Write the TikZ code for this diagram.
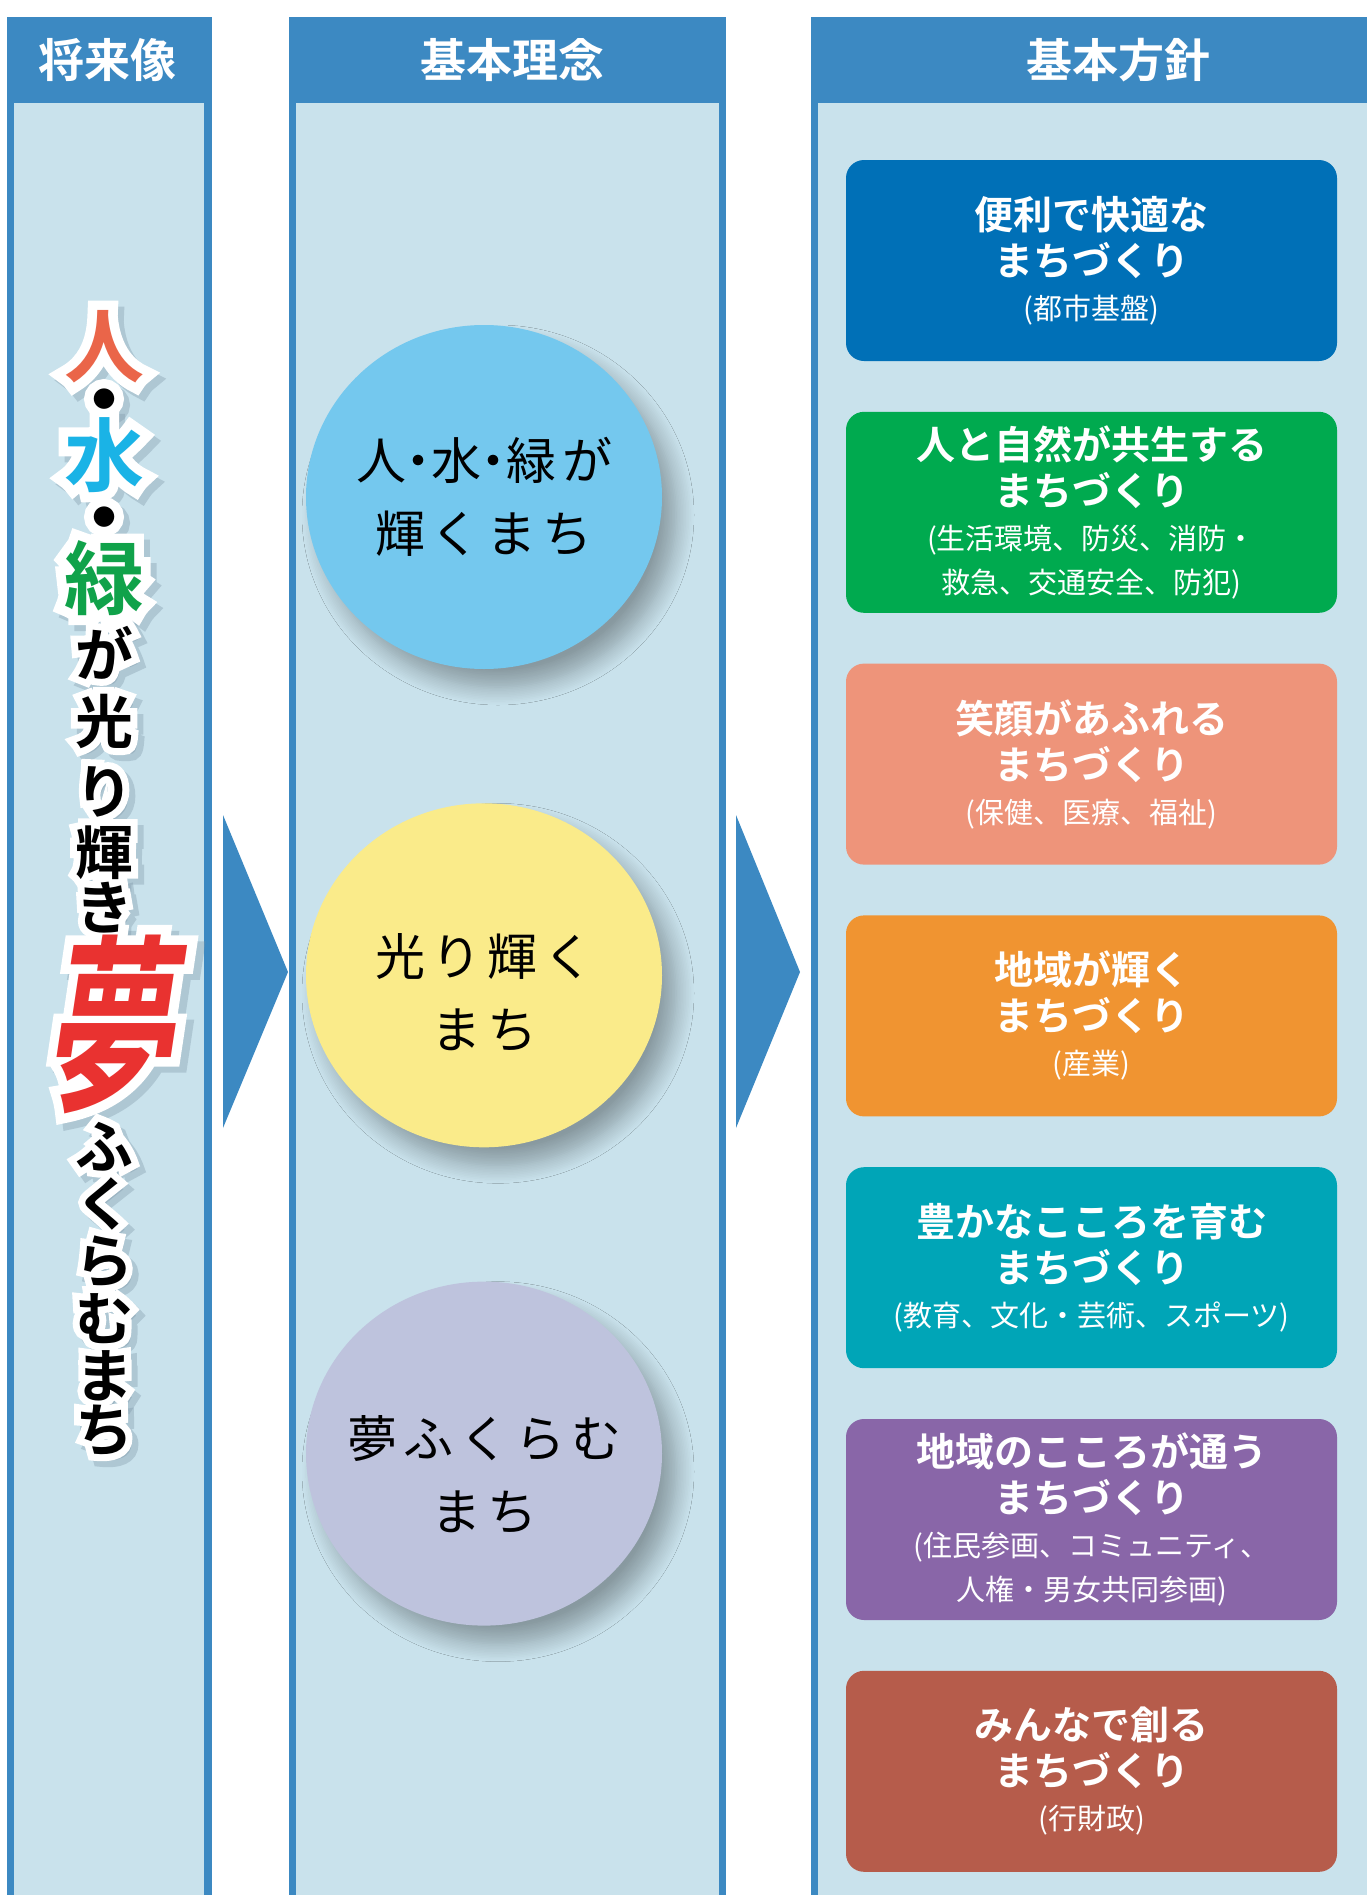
\documentclass[tikz,border=0pt]{standalone}
\usepackage{fontspec}
\usetikzlibrary{positioning,shapes.geometric,shadows.blur}
\newfontfamily\jp{Noto Sans CJK JP}
\newfontfamily\jpb{Noto Sans CJK JP Bold}
\newfontfamily\jpedge[FakeBold=24]{Noto Sans CJK JP Bold}
\newfontfamily\yume[FakeSlant=0.15,FakeStretch=0.68]{Noto Sans CJK JP Bold}
\newfontfamily\yumeedge[FakeSlant=0.15,FakeStretch=0.68,FakeBold=10]{Noto Sans CJK JP Bold}
\newfontfamily\roundfont[LetterSpace=12]{Noto Sans CJK JP}
\newcommand{\subf}{\jp\fontsize{14.5}{21}\selectfont}
\newcommand{\halfdot}{\makebox[0.5em]{・}}
\definecolor{hdrblue}{HTML}{3C89C2}
\definecolor{paleblue}{HTML}{C9E2EC}
\definecolor{pc1}{HTML}{0070B7}
\definecolor{pc2}{HTML}{00AA4F}
\definecolor{pc3}{HTML}{EE947A}
\definecolor{pc4}{HTML}{F09431}
\definecolor{pc5}{HTML}{00A5B7}
\definecolor{pc6}{HTML}{8966A8}
\definecolor{pc7}{HTML}{B65C4B}
\definecolor{ic1}{HTML}{74C8EE}
\definecolor{ic2}{HTML}{FAEB8A}
\definecolor{ic3}{HTML}{BEC3DD}
\definecolor{vred}{HTML}{EA6549}
\definecolor{vcyan}{HTML}{1AB3E6}
\definecolor{vgreen}{HTML}{10A24A}
\definecolor{yumered}{HTML}{E93230}
\definecolor{vshadow}{HTML}{7D95A6}

\begin{document}
\begin{tikzpicture}[x=0.5pt,y=-0.5pt]
\tikzstyle{head}=[text=white, font=\jpb\fontsize{23}{23}\selectfont]
\tikzstyle{plan}=[rectangle, rounded corners=9pt, minimum width=245.5pt, minimum height=100.5pt, inner sep=0pt, align=center, text=white, font=\jpb\fontsize{19.5}{23}\selectfont]
\tikzstyle{idea}=[ellipse, minimum width=178pt, minimum height=172pt, inner sep=0pt, blur shadow={shadow xshift=7pt, shadow yshift=-9pt, shadow blur radius=9pt, shadow blur steps=12, shadow opacity=32}]
\tikzstyle{ideatext}=[align=center, font=\roundfont\fontsize{25}{36.5}\selectfont]
\tikzstyle{vchar}=[inner sep=0pt, anchor=base]
\useasboundingbox (0,0) rectangle (1367,1895);
\fill[white] (0,0) rectangle (1367,1895);
% columns
\fill[hdrblue] (7,17) rectangle (212,1895);
\fill[paleblue] (14,103) rectangle (204,1895);
\fill[hdrblue] (289,17) rectangle (726,1895);
\fill[paleblue] (296,103) rectangle (719,1895);
\fill[hdrblue] (811,17) rectangle (1367,1895);
\fill[paleblue] (818,103) rectangle (1367,1895);
\node[head] (h1) at (108,60) {将来像};
\node[head] (h2) at (512,60) {基本理念};
\node[head] (h3) at (1118,60) {基本方針};
% arrows
\fill[hdrblue] (223,815) -- (223,1128) -- (288,972) -- cycle;
\fill[hdrblue] (736,815) -- (736,1128) -- (800,972) -- cycle;
% vertical text, baseline = centre + 0.76*size
\def\vlist{人/346/40/vred, ・/399/40/black, 水/455/40/vcyan, ・/517/40/black, 緑/578/40/vgreen, が/654/29/black, 光/721/29/black, り/791/29/black, 輝/852/29/black, き/907/29/black, ふ/1146/29/black, く/1203/29/black, ら/1260/29/black, む/1318/29/black, ま/1375/29/black, ち/1429/29/black}
\foreach \ch/\yy/\sz/\col [count=\i] in \vlist
  \node[vchar, text=vshadow, opacity=0.35, font=\jpedge\fontsize{\sz}{\sz}\selectfont] (vs\i) at (110,\yy+0.76*\sz+6) {\ch};
\node[vchar, text=vshadow, opacity=0.35, font=\yumeedge\fontsize{95}{95}\selectfont] (ys) at (115,1102) {夢};
\foreach \ch/\yy/\sz/\col [count=\i] in \vlist
  \node[vchar, text=white, font=\jpedge\fontsize{\sz}{\sz}\selectfont] (vw\i) at (104,\yy+0.76*\sz) {\ch};
\node[vchar, text=white, font=\yumeedge\fontsize{95}{95}\selectfont] (yw) at (108,1096) {夢};
\foreach \ch/\yy/\sz/\col [count=\i] in \vlist
  \node[vchar, text=\col, font=\jpb\fontsize{\sz}{\sz}\selectfont] (v\i) at (104,\yy+0.76*\sz) {\ch};
\node[vchar, text=yumered, font=\yume\fontsize{95}{95}\selectfont] (y) at (108,1096) {夢};
% ideas
\node[idea, fill=ic1] (i1) at (484,497) {};
\node[idea, fill=ic2] (i2) [below=66.75pt of i1] {};
\node[idea, fill=ic3] (i3) [below=66.75pt of i2] {};
\node[ideatext] (it1) at (i1.center) {人\halfdot 水\halfdot 緑が\\輝くまち};
\node[ideatext] (it2) at ([yshift=-8.5pt]i2.center) {光り輝く\\まち};
\node[ideatext] (it3) at ([yshift=-10.5pt]i3.center) {夢ふくらむ\\まち};
% plans
\node[plan, fill=pc1] (b1) at (1091.5,260.5) {便利で快適な\\まちづくり\\[-1pt]{\subf (都市基盤)}};
\node[plan, fill=pc2] (b2) [below=25pt of b1] {人と自然が共生する\\まちづくり\\[-1pt]{\subf (生活環境、防災、消防・}\\[-1pt]{\subf 救急、交通安全、防犯)}};
\node[plan, fill=pc3] (b3) [below=25pt of b2] {笑顔があふれる\\まちづくり\\[-1pt]{\subf (保健、医療、福祉)}};
\node[plan, fill=pc4] (b4) [below=25pt of b3] {地域が輝く\\まちづくり\\[-1pt]{\subf (産業)}};
\node[plan, fill=pc5] (b5) [below=25pt of b4] {豊かなこころを育む\\まちづくり\\[-1pt]{\subf (教育、文化・芸術、スポーツ)}};
\node[plan, fill=pc6] (b6) [below=25pt of b5] {地域のこころが通う\\まちづくり\\[-1pt]{\subf (住民参画、コミュニティ、}\\[-1pt]{\subf 人権・男女共同参画)}};
\node[plan, fill=pc7] (b7) [below=25pt of b6] {みんなで創る\\まちづくり\\[-1pt]{\subf (行財政)}};
\end{tikzpicture}
\end{document}
